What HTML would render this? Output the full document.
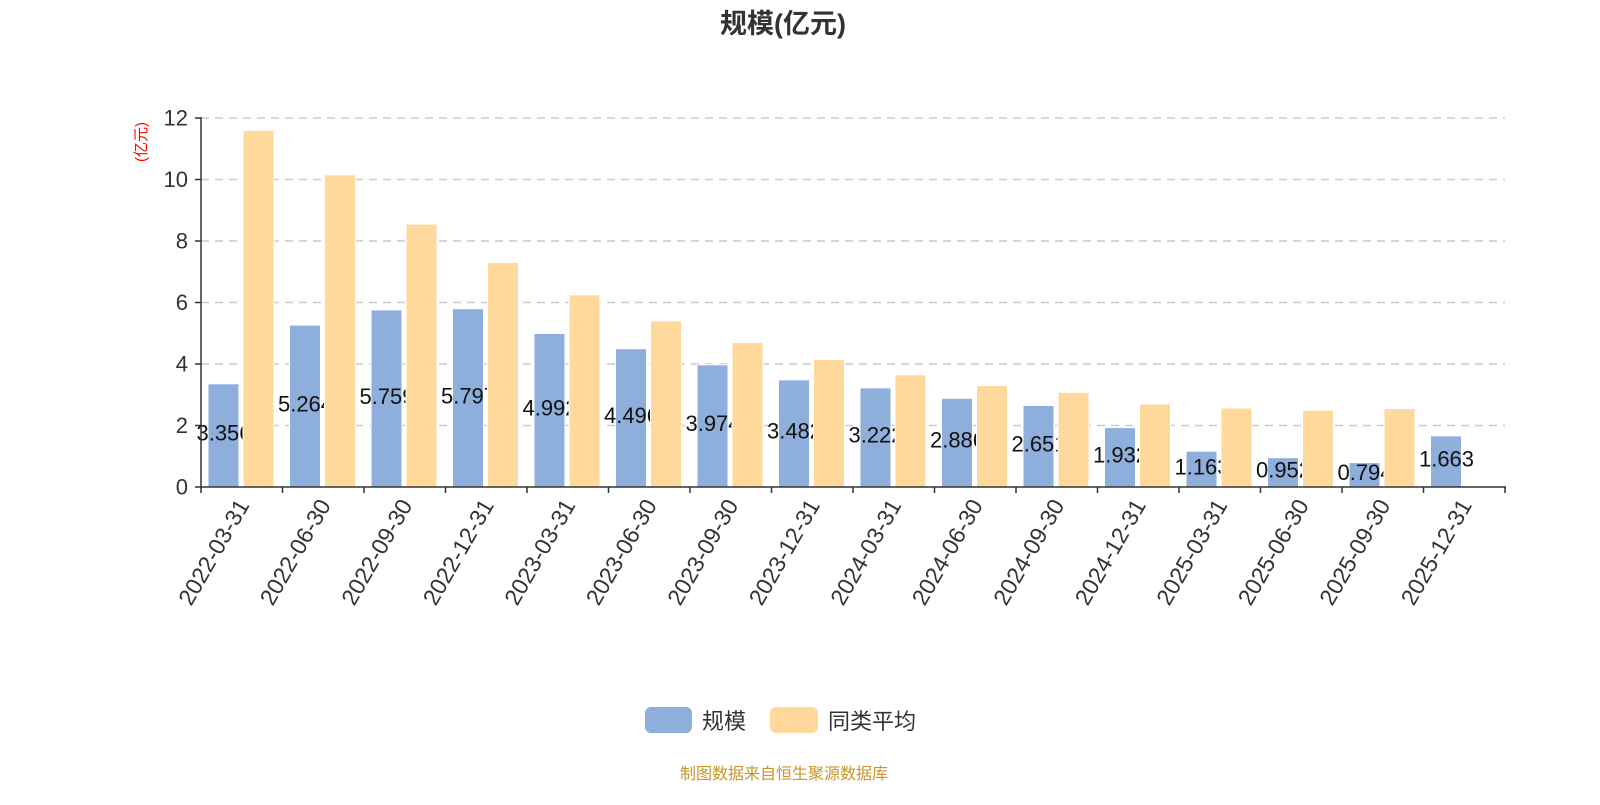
<!DOCTYPE html>
<html><head><meta charset="utf-8"><style>
body{margin:0;background:#fff;}
svg text{font-family:"Liberation Sans","Noto Sans CJK SC",sans-serif;}
</style></head><body>
<svg width="1600" height="800" xmlns="http://www.w3.org/2000/svg">
<text x="783" y="33" text-anchor="middle" font-size="27" font-weight="bold" fill="#333">规模(亿元)</text>
<text transform="translate(146,142) rotate(-90)" text-anchor="middle" font-size="15" fill="#f00">(亿元)</text>
<g stroke="#ccc" stroke-width="1.5" stroke-dasharray="8,6">
<line x1="201" x2="1505" y1="118" y2="118"/><line x1="201" x2="1505" y1="179.5" y2="179.5"/><line x1="201" x2="1505" y1="241" y2="241"/><line x1="201" x2="1505" y1="302.5" y2="302.5"/><line x1="201" x2="1505" y1="364" y2="364"/><line x1="201" x2="1505" y1="425.5" y2="425.5"/>
</g>
<g font-size="22" fill="#333" text-anchor="end" dominant-baseline="central">
<text x="188" y="118">12</text><text x="188" y="179.5">10</text><text x="188" y="241">8</text><text x="188" y="302.5">6</text><text x="188" y="364">4</text><text x="188" y="425.5">2</text><text x="188" y="487">0</text>
</g>
<g fill="#8eaedb" stroke="#fff" stroke-width="1">
<rect x="208" y="383.8" width="31" height="103.2"/><rect x="289.5" y="325.1" width="31" height="161.9"/><rect x="371" y="309.9" width="31" height="177.1"/><rect x="452.5" y="308.7" width="31" height="178.3"/><rect x="534" y="333.5" width="31" height="153.5"/><rect x="615.5" y="348.7" width="31" height="138.3"/><rect x="697" y="364.8" width="31" height="122.2"/><rect x="778.5" y="379.9" width="31" height="107.1"/><rect x="860" y="387.9" width="31" height="99.1"/><rect x="941.5" y="398.3" width="31" height="88.7"/><rect x="1023" y="405.5" width="31" height="81.5"/><rect x="1104.5" y="427.6" width="31" height="59.4"/><rect x="1186" y="451.2" width="31" height="35.8"/><rect x="1267.5" y="457.7" width="31" height="29.3"/><rect x="1349" y="462.6" width="31" height="24.4"/><rect x="1430.5" y="435.9" width="31" height="51.1"/>
</g>
<g font-size="22" fill="#111" text-anchor="middle" dominant-baseline="central">
<text x="224" y="433">3.356</text><text x="305.5" y="404">5.264</text><text x="387" y="396.5">5.759</text><text x="468.5" y="396">5.797</text><text x="550" y="408">4.992</text><text x="631.5" y="415.5">4.496</text><text x="713" y="423.5">3.974</text><text x="794.5" y="431">3.482</text><text x="876" y="435">3.222</text><text x="957.5" y="440">2.886</text><text x="1039" y="444">2.651</text><text x="1120.5" y="455">1.932</text><text x="1202" y="467">1.163</text><text x="1283.5" y="470">0.952</text><text x="1365" y="472.5">0.794</text><text x="1446.5" y="459">1.663</text>
</g>
<g fill="#fed99b" stroke="#fff" stroke-width="1">
<rect x="243" y="130.3" width="31" height="356.7"/><rect x="324.5" y="174.9" width="31" height="312.1"/><rect x="406" y="224.1" width="31" height="262.9"/><rect x="487.5" y="262.5" width="31" height="224.5"/><rect x="569" y="294.8" width="31" height="192.2"/><rect x="650.5" y="320.9" width="31" height="166.1"/><rect x="732" y="342.5" width="31" height="144.5"/><rect x="813.5" y="359.4" width="31" height="127.6"/><rect x="895" y="374.8" width="31" height="112.2"/><rect x="976.5" y="385.5" width="31" height="101.5"/><rect x="1058" y="392.3" width="31" height="94.7"/><rect x="1139.5" y="404" width="31" height="83"/><rect x="1221" y="408" width="31" height="79"/><rect x="1302.5" y="410.1" width="31" height="76.9"/><rect x="1384" y="408.6" width="31" height="78.4"/>
</g>
<g stroke="#333" stroke-width="1.5">
<line x1="201" y1="117" x2="201" y2="488"/><line x1="195" y1="118" x2="201" y2="118"/><line x1="195" y1="179.5" x2="201" y2="179.5"/><line x1="195" y1="241" x2="201" y2="241"/><line x1="195" y1="302.5" x2="201" y2="302.5"/><line x1="195" y1="364" x2="201" y2="364"/><line x1="195" y1="425.5" x2="201" y2="425.5"/><line x1="195" y1="487" x2="201" y2="487"/>
<line x1="201" y1="487" x2="1506" y2="487"/>
<line x1="201" y1="487" x2="201" y2="493"/><line x1="282.5" y1="487" x2="282.5" y2="493"/><line x1="364" y1="487" x2="364" y2="493"/><line x1="445.5" y1="487" x2="445.5" y2="493"/><line x1="527" y1="487" x2="527" y2="493"/><line x1="608.5" y1="487" x2="608.5" y2="493"/><line x1="690" y1="487" x2="690" y2="493"/><line x1="771.5" y1="487" x2="771.5" y2="493"/><line x1="853" y1="487" x2="853" y2="493"/><line x1="934.5" y1="487" x2="934.5" y2="493"/><line x1="1016" y1="487" x2="1016" y2="493"/><line x1="1097.5" y1="487" x2="1097.5" y2="493"/><line x1="1179" y1="487" x2="1179" y2="493"/><line x1="1260.5" y1="487" x2="1260.5" y2="493"/><line x1="1342" y1="487" x2="1342" y2="493"/><line x1="1423.5" y1="487" x2="1423.5" y2="493"/><line x1="1505" y1="487" x2="1505" y2="493"/>
</g>
<g font-size="23" fill="#333" text-anchor="end">
<text transform="translate(250,505) rotate(-60)">2022-03-31</text>
<text transform="translate(331.5,505) rotate(-60)">2022-06-30</text>
<text transform="translate(413,505) rotate(-60)">2022-09-30</text>
<text transform="translate(494.5,505) rotate(-60)">2022-12-31</text>
<text transform="translate(576,505) rotate(-60)">2023-03-31</text>
<text transform="translate(657.5,505) rotate(-60)">2023-06-30</text>
<text transform="translate(739,505) rotate(-60)">2023-09-30</text>
<text transform="translate(820.5,505) rotate(-60)">2023-12-31</text>
<text transform="translate(902,505) rotate(-60)">2024-03-31</text>
<text transform="translate(983.5,505) rotate(-60)">2024-06-30</text>
<text transform="translate(1065,505) rotate(-60)">2024-09-30</text>
<text transform="translate(1146.5,505) rotate(-60)">2024-12-31</text>
<text transform="translate(1228,505) rotate(-60)">2025-03-31</text>
<text transform="translate(1309.5,505) rotate(-60)">2025-06-30</text>
<text transform="translate(1391,505) rotate(-60)">2025-09-30</text>
<text transform="translate(1472.5,505) rotate(-60)">2025-12-31</text>
</g>
<rect x="645" y="707" width="47" height="26" rx="6" fill="#8eaedb"/>
<text x="702" y="729" font-size="22" fill="#333">规模</text>
<rect x="770" y="707" width="48" height="26" rx="6" fill="#fed99b"/>
<text x="828" y="729" font-size="22" fill="#333">同类平均</text>
<text x="784" y="779" text-anchor="middle" font-size="16" fill="#c8962a">制图数据来自恒生聚源数据库</text>
</svg>
</body></html>
